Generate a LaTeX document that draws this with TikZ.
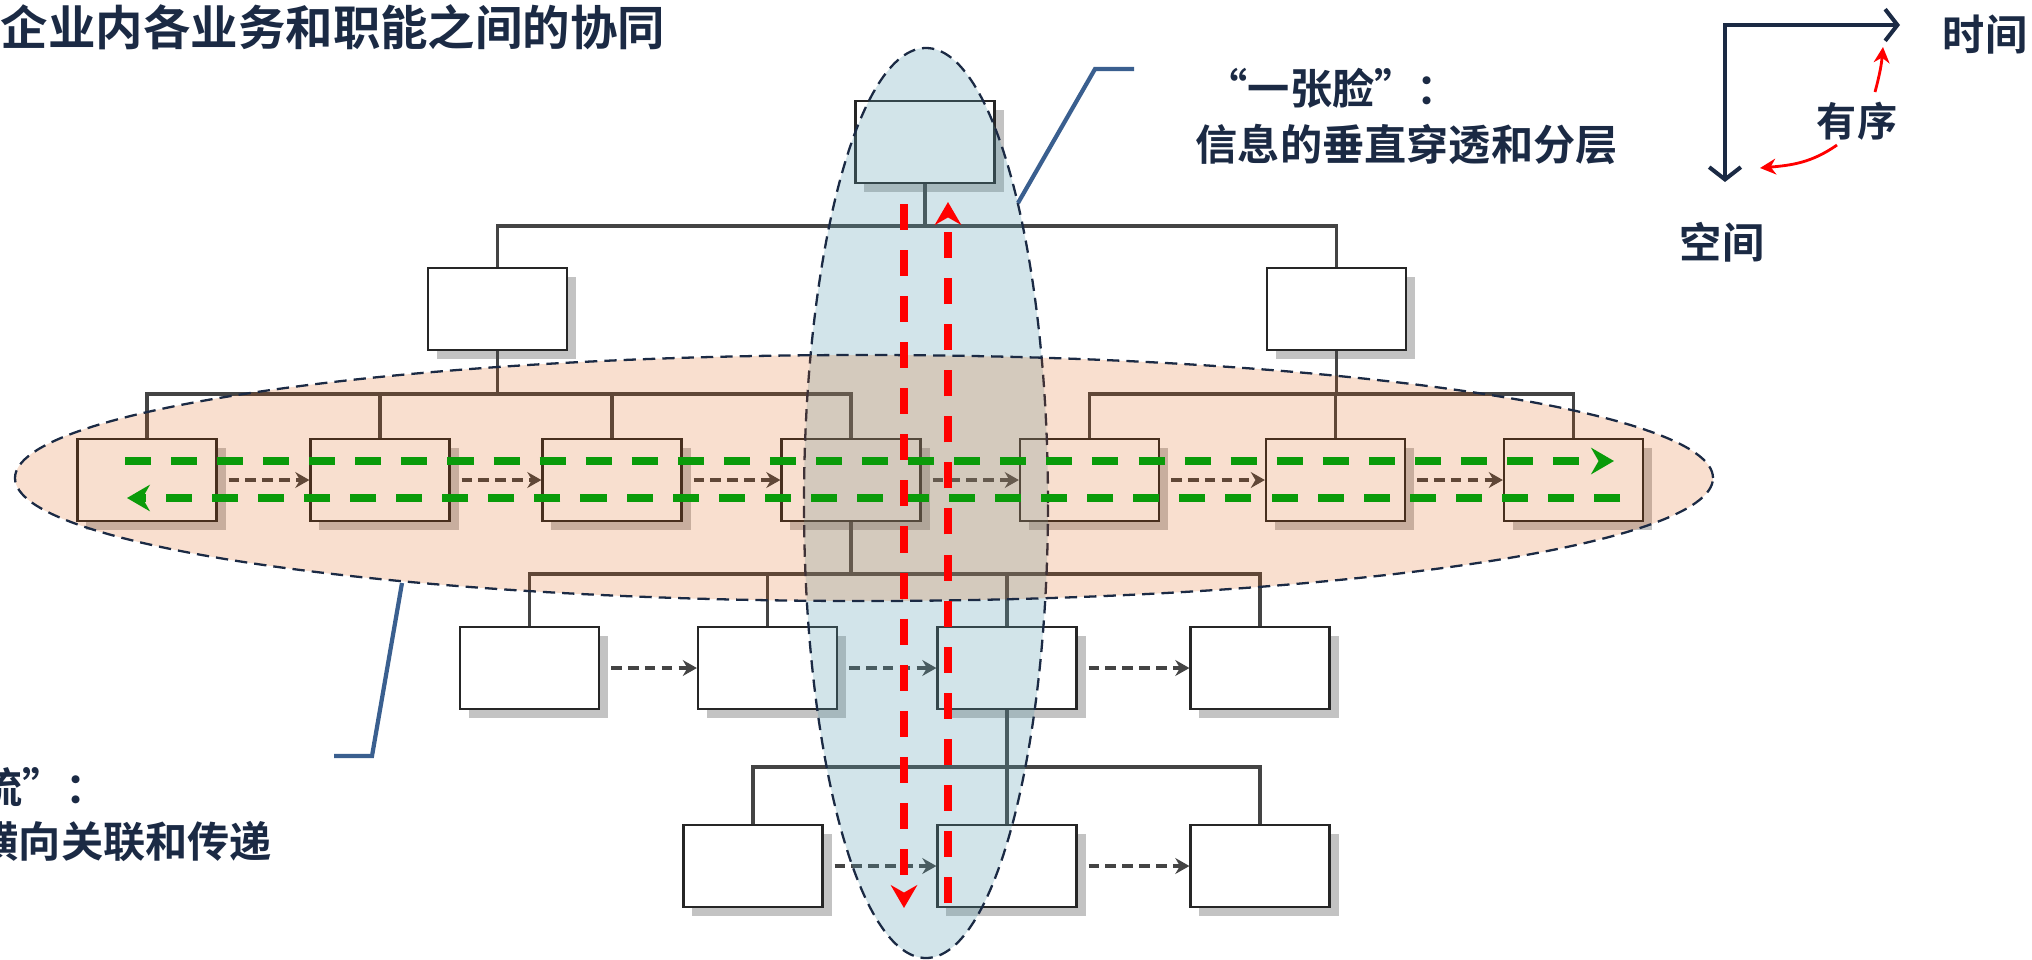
\documentclass[tikz,border=0pt]{standalone}
\usepackage{fontspec}
\newfontfamily\cjk{Noto Sans CJK SC}[BoldFont={Noto Sans CJK SC Bold}]
\usetikzlibrary{arrows.meta,shadows}
\definecolor{navy}{RGB}{27,42,68}
\definecolor{linkgray}{RGB}{68,68,68}
\definecolor{shadowgray}{RGB}{195,195,195}
\definecolor{blueov}{RGB}{90,157,176}
\definecolor{orangeov}{RGB}{222,86,0}
\definecolor{leader}{RGB}{58,95,143}
\definecolor{flowgreen}{RGB}{10,155,10}

\begin{document}
\begin{tikzpicture}[x=0.01cm,y=0.01cm,
    box/.style={draw=black!85,line width=0.6pt,fill=white,inner sep=0pt,
      minimum width=1.39cm,minimum height=0.82cm,
      drop shadow={shadow xshift=0.09cm,shadow yshift=-0.09cm,fill=shadowgray,opacity=1}},
    link/.style={draw=linkgray,line width=1.1pt},
    flow/.style={linkgray,line width=1pt,dash pattern=on 3pt off 1.8pt,
      -{Stealth[length=4pt,width=4.5pt]}},
    bigflow/.style={line width=2pt,dash pattern=on 7.4pt off 5.7pt,
      -{Stealth[length=6.5pt,width=7.5pt]}},
    zone/.style={navy,line width=0.65pt,dash pattern=on 3.5pt off 2pt},
    txt/.style={inner sep=0pt,text=navy,font=\cjk\bfseries\fontsize{12pt}{14pt}\selectfont}]
  \useasboundingbox (0,0) rectangle (2032,-960) ;

  % boxes
  \node[box] (top) at (925,-142) {} ;
  \node[box] (la) at (497.5,-309) {} ;
  \node[box] (lb) at (1336.5,-309) {} ;
  \node[box] (r1) at (147,-480) {} ;
  \node[box] (r2) at (380,-480) {} ;
  \node[box] (r3) at (612,-480) {} ;
  \node[box] (r4) at (851,-480) {} ;
  \node[box] (r5) at (1089.5,-480) {} ;
  \node[box] (r6) at (1335.5,-480) {} ;
  \node[box] (r7) at (1573.5,-480) {} ;
  \node[box] (s1) at (529.5,-668) {} ;
  \node[box] (s2) at (767.5,-668) {} ;
  \node[box] (s3) at (1007,-668) {} ;
  \node[box] (s4) at (1260,-668) {} ;
  \node[box] (t1) at (753,-866) {} ;
  \node[box] (t2) at (1007,-866) {} ;
  \node[box] (t3) at (1260,-866) {} ;

  % tree lines
  \coordinate (bus0) at (0,-226) ;
  \coordinate (bus1) at (0,-394) ;
  \coordinate (bus2) at (0,-574) ;
  \coordinate (bus3) at (0,-767) ;
  \draw[link] (top.south) -- (top.south |- bus0) ;
  \draw[link] (la.north) |- (lb.north |- bus0) -- (lb.north) ;
  \draw[link] (la.south) -- (la.south |- bus1) ;
  \draw[link] (r1.north) |- (r4.north |- bus1) -- (r4.north) ;
  \draw[link] (r2.north) -- (r2.north |- bus1) ;
  \draw[link] (r3.north) -- (r3.north |- bus1) ;
  \draw[link] (lb.south) -- (lb.south |- bus1) ;
  \draw[link] (r5.north) |- (r7.north |- bus1) -- (r7.north) ;
  \draw[link] (r6.north) -- (r6.north |- bus1) ;
  \draw[link] (r4.south) -- (r4.south |- bus2) ;
  \draw[link] (s1.north) |- (s4.north |- bus2) -- (s4.north) ;
  \draw[link] (s2.north) -- (s2.north |- bus2) ;
  \draw[link] (s3.north) -- (s3.north |- bus2) ;
  \draw[link] (s3.south) -- (t2.north) ;
  \draw[link] (t1.north) |- (t3.north |- bus3) -- (t3.north) ;

  % flows between neighbours
  \draw[flow] ([xshift=0.11cm]r1.east) -- (r2.west) ;
  \draw[flow] ([xshift=0.11cm]r2.east) -- (r3.west) ;
  \draw[flow] ([xshift=0.11cm]r3.east) -- (r4.west) ;
  \draw[flow] ([xshift=0.11cm]r4.east) -- (r5.west) ;
  \draw[flow] ([xshift=0.11cm]r5.east) -- (r6.west) ;
  \draw[flow] ([xshift=0.11cm]r6.east) -- (r7.west) ;
  \draw[flow] ([xshift=0.11cm]s1.east) -- (s2.west) ;
  \draw[flow] ([xshift=0.11cm]s2.east) -- (s3.west) ;
  \draw[flow] ([xshift=0.11cm]s3.east) -- (s4.west) ;
  \draw[flow] ([xshift=0.11cm]t1.east) -- (t2.west) ;
  \draw[flow] ([xshift=0.11cm]t2.east) -- (t3.west) ;

  % the two zones
  \fill[blueov,fill opacity=0.27] (926,-503) ellipse [x radius=122,y radius=455] ;
  \draw[zone] (926,-503) ellipse [x radius=122,y radius=455] ;
  \fill[orangeov,fill opacity=0.19] (864,-478) ellipse [x radius=849,y radius=123] ;
  \draw[zone] (864,-478) ellipse [x radius=849,y radius=123] ;

  % horizontal and vertical flows
  \coordinate (g1) at (125,-461) ;
  \coordinate (g2) at (1614,-461) ;
  \coordinate (g3) at (1620,-498) ;
  \coordinate (g4) at (127,-498) ;
  \coordinate (v1) at (904,-204) ;
  \coordinate (v2) at (904,-908) ;
  \coordinate (v3) at (948,-903) ;
  \coordinate (v4) at (948,-202) ;
  \draw[bigflow,flowgreen] (g1) -- (g2) ;
  \draw[bigflow,flowgreen] (g3) -- (g4) ;
  \draw[bigflow,red] (v1) -- (v2) ;
  \draw[bigflow,red] (v3) -- (v4) ;

  % callouts
  \draw[leader,line width=1.2pt] (1018,-203) -- (1095,-69) -- (1134,-69) ;
  \draw[leader,line width=1.2pt] (402,-583) -- (372,-756) -- (334,-756) ;
  \node[txt,anchor=west,font=\cjk\bfseries\fontsize{13.5pt}{16pt}\selectfont] (title) at (0,-27) {企业内各业务和职能之间的协同} ;
  \node[txt,anchor=west] (face1) at (1205,-88) {\addfontfeatures{RawFeature=+fwid}“一张脸”：} ;
  \node[txt,anchor=west] (face2) at (1195,-144) {信息的垂直穿透和分层} ;
  \node[txt,anchor=west] (flow1) at (-20,-787) {\addfontfeatures{RawFeature=+fwid}流”：} ;
  \node[txt,anchor=west] (flow2) at (-24,-842) {横向关联和传递} ;

  % time / space
  \draw[navy,line width=1.15pt,{Straight Barb[length=3.5pt,width=9pt]}-{Straight Barb[length=3.5pt,width=9pt]}]
    (1725,-182) |- (1900,-25) ;
  \node[txt] (time) at (1985,-35) {时间} ;
  \node[txt] (space) at (1722,-242) {空间} ;
  \node[txt,font=\cjk\bfseries\fontsize{11.4pt}{13pt}\selectfont] (order) at (1857,-121) {有序} ;
  \draw[red,line width=0.8pt,-{Stealth[length=4.5pt,width=4.5pt]}] (1875,-92) to[out=75,in=-95] (1883,-47) ;
  \draw[red,line width=0.8pt,-{Stealth[length=4.5pt,width=4.5pt]}] (1837,-145) to[out=215,in=5] (1760,-168) ;
\end{tikzpicture}
\end{document}
